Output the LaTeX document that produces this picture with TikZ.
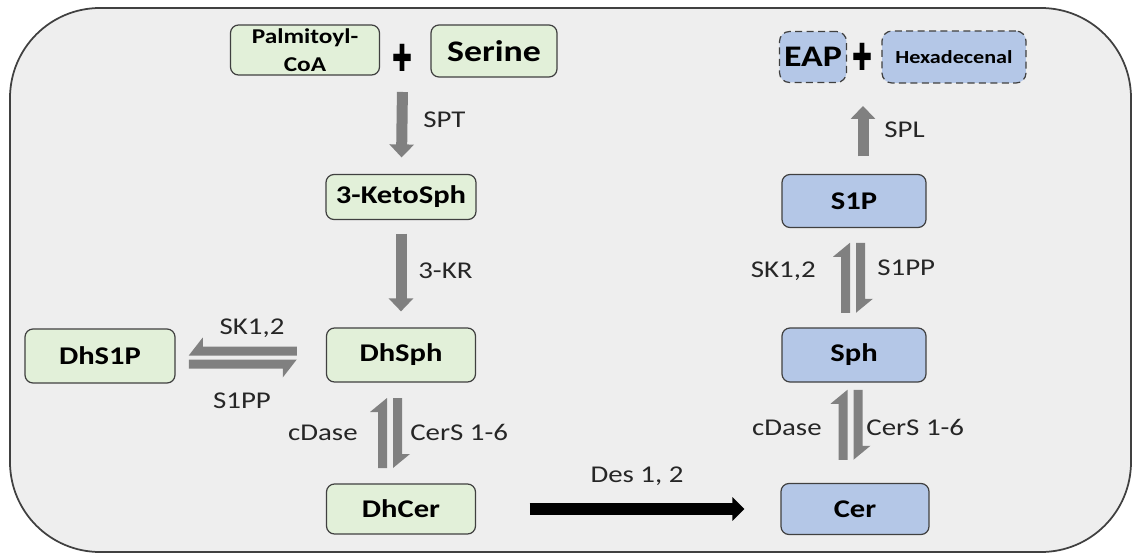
\documentclass[tikz,border=0pt]{standalone}
\usepackage{fontspec}
\setmainfont{Carlito}[FakeStretch=1.2]
\newfontfamily\crossfont{DejaVu Sans}
\usetikzlibrary{arrows.meta,calc}
\definecolor{bggray}{HTML}{EEEEEE}
\definecolor{framegray}{HTML}{404040}
\definecolor{boxgreen}{HTML}{E2F0D9}
\definecolor{boxblue}{HTML}{B4C7E7}
\definecolor{arrowgray}{HTML}{808080}
\definecolor{labelgray}{HTML}{262626}
\tikzset{
  box/.style={draw=framegray, line width=0.7pt, rounded corners=0.16cm, inner sep=0pt, align=center,
    font=\fontsize{14.5}{17}\selectfont\bfseries},
  greenbox/.style={box, fill=boxgreen},
  bluebox/.style={box, fill=boxblue},
  lostbox/.style={bluebox, dashed, dash pattern=on 4pt off 2.5pt, rounded corners=0.2cm},
  enzyme/.style={text=labelgray, inner sep=0pt, font=\fontsize{13.7}{15}\selectfont},
  plussign/.style={inner sep=0pt, font=\fontsize{17}{17}\crossfont},
  grayarrow/.style={draw=arrowgray, line width=0.22cm, -{Triangle[width=0.48cm,length=0.26cm]}},
  blackarrow/.style={draw=black, line width=0.24cm, -{Triangle[width=0.46cm,length=0.24cm]}},
  % reversible pair, up on the left, down on the right
  pics/updown/.style={code={
    \fill[arrowgray] (-3,-35) -- (-20,-21) -- (-12,-21) -- (-12,35) -- (-3,35) -- cycle;
    \fill[arrowgray] (3,35) -- (20,21) -- (12,21) -- (12,-35) -- (3,-35) -- cycle;
  }},
  % reversible pair, left on top, right below
  pics/leftright/.style={code={
    \fill[arrowgray] (-54,-2) -- (-40,-20) -- (-40,-11) -- (54,-11) -- (54,-2) -- cycle;
    \fill[arrowgray] (54,2) -- (40,20) -- (40,11) -- (-54,11) -- (-54,2) -- cycle;
  }},
}
\begin{document}
\begin{tikzpicture}[x=0.02cm, y=-0.02cm]
\useasboundingbox (0,0) rectangle (1134,555);
\draw[framegray, line width=1pt, fill=bggray, rounded corners=1.8cm] (10,8) rectangle (1131,552);

% de novo branch
\node[greenbox, minimum width=2.98cm, minimum height=1.00cm,
  font=\fontsize{12}{16}\selectfont\bfseries] (palm) at (305,50) {Palmitoyl-\\CoA};
\node[plussign] (plus1) at (403,58) {\scalebox{0.8}[1.25]{✚}};
\node[greenbox, minimum width=2.52cm, minimum height=1.04cm,
  font=\fontsize{17}{20}\selectfont\bfseries] (serine) at (494,51) {Serine};
\node[greenbox, minimum width=3.00cm, minimum height=0.90cm] (keto) at (401,197) {3-KetoSph};
\node[greenbox, minimum width=2.98cm, minimum height=1.08cm] (dhsph) at (401,355) {DhSph};
\node[greenbox, minimum width=3.00cm, minimum height=1.08cm] (dhs1p) at (100,356) {DhS1P};
\node[greenbox, minimum width=2.98cm, minimum height=1.00cm] (dhcer) at (401,509) {DhCer};

% salvage / degradation branch
\node[bluebox, minimum width=2.96cm, minimum height=1.02cm] (cer) at (855,509) {Cer};
\node[bluebox, minimum width=2.88cm, minimum height=1.08cm] (sph) at (854,355) {Sph};
\node[bluebox, minimum width=2.88cm, minimum height=1.06cm] (s1p) at (854,201) {S1P};
\node[lostbox, minimum width=1.34cm, minimum height=1.02cm,
  font=\fontsize{17}{20}\selectfont\bfseries] (eap) at (813,57) {EAP};
\node[plussign] (plus2) at (863,57) {\scalebox{0.8}[1.25]{✚}};
\node[lostbox, minimum width=2.88cm, minimum height=1.04cm,
  font=\fontsize{10.5}{12}\selectfont\bfseries] (hexa) at (954,57) {Hexadecenal};

% reactions
\draw[grayarrow, shorten <=0.84cm, shorten >=0.33cm] (plus1.center |- palm) -- (keto);
\draw[grayarrow, shorten <=0.27cm, shorten >=0.32cm] (keto) -- (dhsph);
\draw[grayarrow, shorten <=0.35cm, shorten >=0.70cm] (s1p.north -| plus2) -- (plus2);
\draw[blackarrow, shorten <=1.07cm, shorten >=0.72cm] (dhcer.east) -- (cer.west);

\pic at ($(dhs1p.east)!0.5!(dhsph.west)+(-8,2)$) {leftright};
\pic at ($(dhsph.south)!0.5!(dhcer.north)+(-11,0)$) {updown};
\pic at ($(s1p.south)!0.5!(sph.north)+(-1,0)$) {updown};
\pic at ($(sph.south)!0.5!(cer.north)+(-4,-8)$) {updown};

% enzymes
\node[enzyme, anchor=base west] (lspt) at (423,127) {SPT};
\node[enzyme, anchor=base west] (lkr) at (418,278) {3-KR};
\node[enzyme, anchor=base] (lsk) at (252,334) {SK1,2};
\node[enzyme, anchor=base] (lpp) at (242,408) {S1PP};
\node[enzyme, anchor=base east] (ldase) at (358,440) {cDase};
\node[enzyme, anchor=base west] (lcers) at (410,440) {CerS 1-6};
\node[enzyme, anchor=base] (ldes) at (637,482) {Des 1, 2};
\node[enzyme, anchor=base west] (lspl) at (884,137) {SPL};
\node[enzyme, anchor=base east] (lsk2) at (816,277) {SK1,2};
\node[enzyme, anchor=base west] (lpp2) at (877,275) {S1PP};
\node[enzyme, anchor=base east] (ldase2) at (822,435) {cDase};
\node[enzyme, anchor=base west] (lcers2) at (866,435) {CerS 1-6};
\end{tikzpicture}
\end{document}
